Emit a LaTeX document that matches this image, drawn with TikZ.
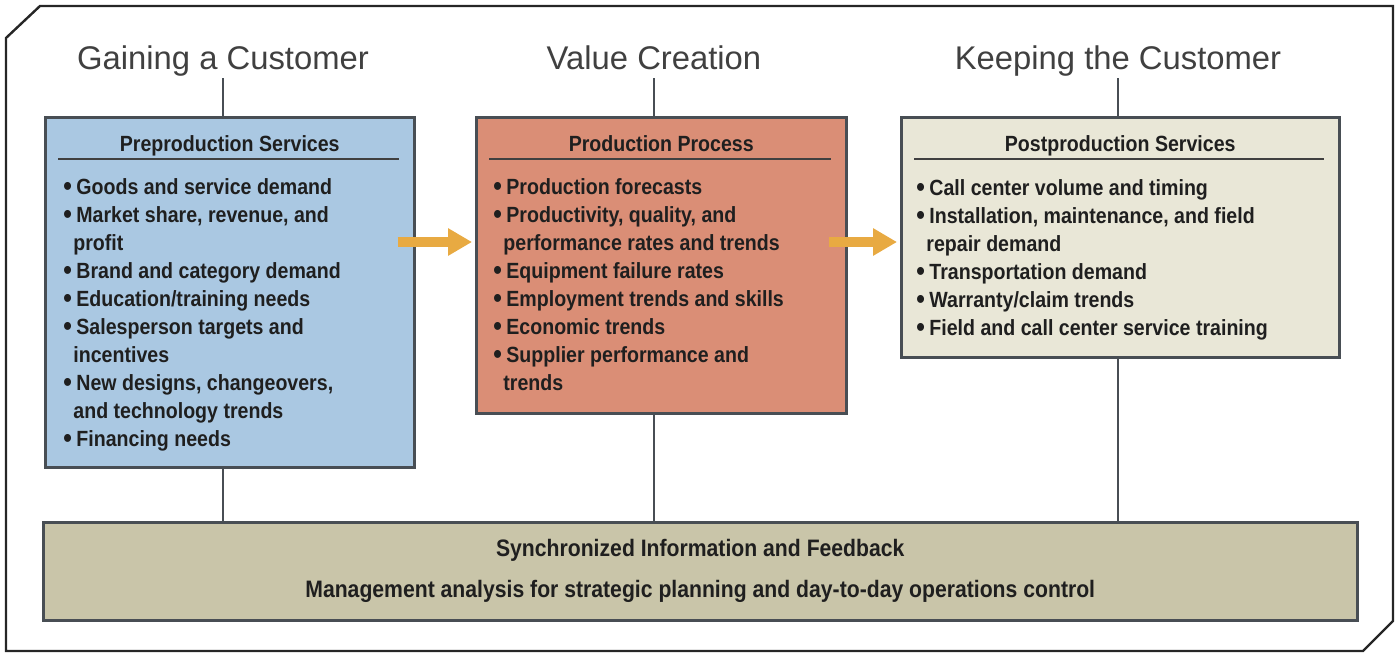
\documentclass[tikz,border=0pt]{standalone}
\usepackage{fontspec}
\newfontfamily\headfont{Liberation Sans}
\newfontfamily\boxfont[FakeStretch=0.89]{Liberation Sans}
\usetikzlibrary{positioning,arrows.meta}

\definecolor{preblue}{RGB}{170,200,226}
\definecolor{prodred}{RGB}{218,142,118}
\definecolor{postbeige}{RGB}{233,231,215}
\definecolor{syncolive}{RGB}{201,197,169}
\definecolor{boxline}{RGB}{72,78,84}
\definecolor{floworange}{RGB}{232,170,66}

\newcommand\bul{\makebox[6.5pt][l]{\raisebox{-0.4pt}{\scalebox{1.25}{\textbullet}}}}
\newcommand\cont{\hspace*{5pt}}

\begin{document}
\begin{tikzpicture}[x=0.5pt, y=-0.5pt,
  outerframe/.style={draw=black!85, line width=1.2pt, line join=miter},
  stage/.style={font=\headfont\fontsize{16.4}{18}\selectfont, text=black!75, text depth=3.5pt, inner sep=1pt, anchor=base},
  stagebox/.style={draw=boxline, line width=1.25pt, anchor=north west, inner sep=0pt},
  boxtitle/.style={font=\boxfont\bfseries\fontsize{11}{14}\selectfont, text=black!88, anchor=base, inner sep=0pt},
  itemlist/.style={font=\boxfont\bfseries\fontsize{11}{14}\selectfont, text=black!88, align=left, anchor=north west, inner sep=0pt},
  rulestyle/.style={draw=black!75, line width=0.6pt},
  tie/.style={draw=boxline, line width=1.1pt},
  flowarrow/.style={draw=floworange, line width=5pt, -{Triangle[length=12pt,width=13pt]}}]

\useasboundingbox (0,0) rectangle (1400,658);
\draw[outerframe] (6,38) -- (40,6) -- (1393,6) -- (1393,621) -- (1363,651) -- (6,651) -- cycle;

\foreach \t/\n/\x in {Gaining a Customer/gain/223, Value Creation/value/654, Keeping the Customer/keep/1118}
  \node[stage] (\n) at (\x,69) {\t};

\node[stagebox, fill=preblue, minimum width=184.5pt, minimum height=175pt] (pre) at (44,116) {};
\node[stagebox, fill=prodred, minimum width=185pt, minimum height=148pt] (prod) at (475,116) {};
\node[stagebox, fill=postbeige, minimum width=219pt, minimum height=120pt] (post) at (900,116) {};
\node[stagebox, fill=syncolive, minimum width=657pt, minimum height=49pt, align=center,
  font=\boxfont\bfseries\fontsize{11.9}{14}\selectfont, text=black!88] (sync) at (42,521)
  {Synchronized Information and Feedback\\[6.5pt]
   Management analysis for strategic planning and day-to-day operations control};

\foreach \b/\t in {pre/Preproduction Services, prod/Production Process, post/Postproduction Services} {
  \node[boxtitle] (\b-title) at ([yshift=-17.5pt]\b.north) {\t};
  \draw[rulestyle] ([xshift=7pt,yshift=-21.5pt]\b.north west) -- ([xshift=-8.5pt,yshift=-21.5pt]\b.north east);
}

\node[itemlist] (pre-list) at ([xshift=9.5pt,yshift=-31pt]pre.north west)
  {\bul Goods and service demand\\
   \bul Market share, revenue, and\\
   \cont profit\\
   \bul Brand and category demand\\
   \bul Education/training needs\\
   \bul Salesperson targets and\\
   \cont incentives\\
   \bul New designs, changeovers,\\
   \cont and technology trends\\
   \bul Financing needs};

\node[itemlist] (prod-list) at ([xshift=9pt,yshift=-31pt]prod.north west)
  {\bul Production forecasts\\
   \bul Productivity, quality, and\\
   \cont performance rates and trends\\
   \bul Equipment failure rates\\
   \bul Employment trends and skills\\
   \bul Economic trends\\
   \bul Supplier performance and\\
   \cont trends};

\node[itemlist] (post-list) at ([xshift=8pt,yshift=-31.5pt]post.north west)
  {\bul Call center volume and timing\\
   \bul Installation, maintenance, and field\\
   \cont repair demand\\
   \bul Transportation demand\\
   \bul Warranty/claim trends\\
   \bul Field and call center service training};

\foreach \h/\b in {gain/pre, value/prod, keep/post} {
  \draw[tie] (\h.south) -- (\h.south |- \b.north);
  \draw[tie] (\h.south |- \b.south) -- (\h.south |- sync.north);
}

\coordinate (flowrow) at (0,242);
\draw[flowarrow] ([xshift=-9pt]pre.east |- flowrow) -- ([xshift=-1.5pt]prod.west |- flowrow);
\draw[flowarrow] ([xshift=-9.5pt]prod.east |- flowrow) -- ([xshift=-1.5pt]post.west |- flowrow);

\end{tikzpicture}
\end{document}
